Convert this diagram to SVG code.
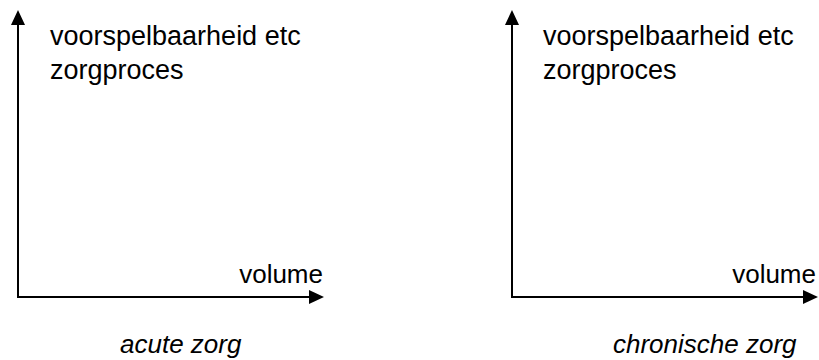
<svg xmlns="http://www.w3.org/2000/svg" width="819" height="360" viewBox="0 0 819 360">
  <style>
    .t { font-family: "Liberation Sans", Arial, sans-serif; font-size: 26px; fill: #000; }
    .h { font-size: 27px; }
    .i { font-style: italic; }
    .ax { stroke: #000; stroke-width: 2; fill: none; }
  </style>
  <defs>
    <marker id="arr" markerUnits="userSpaceOnUse" markerWidth="16" markerHeight="14" refX="13" refY="7" orient="auto">
      <path d="M0,0 L15,7 L0,14 z" fill="#000"/>
    </marker>
  </defs>
  <rect width="819" height="360" fill="#fff"/>
  <g id="connectors">
    <line class="ax" x1="18" y1="298" x2="18" y2="12" marker-end="url(#arr)"/>
    <line class="ax" x1="17" y1="297" x2="322" y2="297" marker-end="url(#arr)"/>
    <line class="ax" x1="512" y1="298" x2="512" y2="12" marker-end="url(#arr)"/>
    <line class="ax" x1="511" y1="297" x2="816" y2="297" marker-end="url(#arr)"/>
  </g>
  <g id="chart-acute">
    <text class="t h" x="50" y="45">voorspelbaarheid etc</text>
    <text class="t h" x="50" y="79">zorgproces</text>
    <text class="t" x="323" y="283" text-anchor="end">volume</text>
    <text class="t i" x="120" y="353">acute zorg</text>
  </g>
  <g id="chart-chronisch">
    <text class="t h" x="543" y="45">voorspelbaarheid etc</text>
    <text class="t h" x="543" y="79">zorgproces</text>
    <text class="t" x="816" y="283" text-anchor="end">volume</text>
    <text class="t i" x="613" y="353">chronische zorg</text>
  </g>
</svg>
